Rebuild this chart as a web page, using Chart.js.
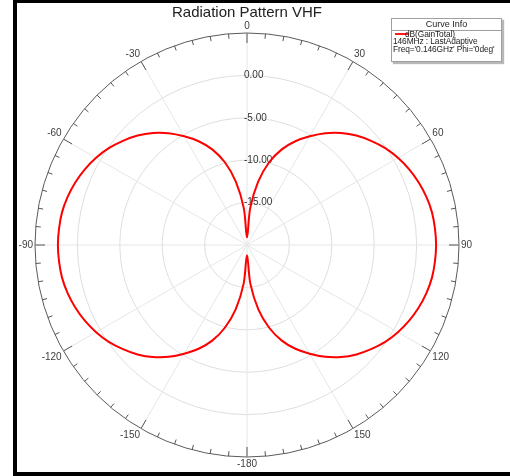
<!DOCTYPE html>
<html>
<head>
<meta charset="utf-8">
<script src="https://cdn.jsdelivr.net/npm/chart.js@4.4.1/dist/chart.umd.min.js"></script>
<style>
  html, body { margin: 0; padding: 0; background: #fff; }
  body { width: 510px; height: 476px; position: relative; overflow: hidden; font-family: "Liberation Sans", Arial, sans-serif; }
  #frame { position: absolute; left: 13px; top: 0; width: 497px; height: 476px; box-sizing: border-box;
           border-left: 4px solid #000; border-top: 3px solid #000; border-bottom: 4px solid #000; }
  canvas { position: absolute; left: 0; top: 0; }
  .curve-info { position: absolute; left: 391px; top: 18px; width: 111px; height: 44px; box-sizing: border-box;
                border: 1px solid #a0a0a0; background: #fff; box-shadow: 2px 2px 1px #b8b8b8; color: #222; font-size: 8.4px; }
  .curve-info .head { height: 11px; line-height: 11px; text-align: center; border-bottom: 1px solid #a0a0a0; font-size: 9px; }
  .curve-info .row { position: absolute; left: 1px; white-space: nowrap; line-height: 9px; letter-spacing: -0.1px; }
  .curve-info .swatch { position: absolute; left: 3px; top: 14px; width: 14px; height: 2px; background: #ff1a1a; }
</style>
</head>
<body>
<div id="frame"></div>
<canvas id="polarChart" width="510" height="476"></canvas>
<div class="curve-info">
  <div class="head">Curve Info</div>
  <div class="swatch"></div>
  <div class="row" style="left:13px; top:11px;">dB(GainTotal)</div>
  <div class="row" style="top:18px;">146MHz : LastAdaptive</div>
  <div class="row" style="top:26px;">Freq='0.146GHz' Phi='0deg'</div>
</div>
<script>
// Theta in degrees, clockwise from the top
const angleLabels = [
  "0", "5", "10", "15", "20", "25", "30", "35", "40", "45", "50", "55",
  "60", "65", "70", "75", "80", "85", "90", "95", "100", "105", "110", "115",
  "120", "125", "130", "135", "140", "145", "150", "155", "160", "165", "170", "175",
  "-180", "-175", "-170", "-165", "-160", "-155", "-150", "-145", "-140", "-135", "-130", "-125",
  "-120", "-115", "-110", "-105", "-100", "-95", "-90", "-85", "-80", "-75", "-70", "-65",
  "-60", "-55", "-50", "-45", "-40", "-35", "-30", "-25", "-20", "-15", "-10", "-5"
];

// dB(GainTotal)
const gainTotal = [
  -19.1, -15.6, -12.4, -9.9, -8.0, -6.5, -5.2, -3.9, -2.75, -1.75, -0.9, -0.1,
  0.55, 1.1, 1.55, 1.9, 2.15, 2.25, 2.3, 2.25, 2.15, 1.9, 1.55, 1.1,
  0.55, -0.1, -0.9, -1.75, -2.75, -3.9, -5.2, -6.5, -8.0, -9.9, -12.3, -15.4,
  -18.8, -15.4, -12.3, -9.9, -8.0, -6.5, -5.2, -3.9, -2.75, -1.75, -0.9, -0.1,
  0.55, 1.1, 1.55, 1.9, 2.15, 2.25, 2.3, 2.25, 2.15, 1.9, 1.55, 1.1,
  0.55, -0.1, -0.9, -1.75, -2.75, -3.9, -5.2, -6.5, -8.0, -9.9, -12.4, -15.6
];

const ringLabels = [0, -5, -10, -15];
const rMin = -20;
const rMax = 5;

const fontFamily = '"Liberation Sans", Arial, sans-serif';

// outer ring ticks, angle labels and dB labels
const polarDecor = {
  id: "polarDecor",
  beforeDatasetsDraw(chart) {
    const r = chart.scales.r;
    const ctx = chart.ctx;
    const R = r.drawingArea;
    ctx.save();
    ctx.strokeStyle = "#555";
    ctx.lineWidth = 1;
    angleLabels.forEach((lab, i) => {
      const major = Number(lab) % 30 === 0;
      const p1 = r.getPointPosition(i, R);
      const p2 = r.getPointPosition(i, R - (major ? 10 : 5));
      ctx.beginPath();
      ctx.moveTo(p1.x, p1.y);
      ctx.lineTo(p2.x, p2.y);
      ctx.stroke();
    });

    ctx.fillStyle = "#404040";
    ctx.font = "10px " + fontFamily;
    angleLabels.forEach((lab, i) => {
      if (Number(lab) % 30 !== 0) return;
      const a = r.getIndexAngle(i);
      const s = Math.sin(a), c = Math.cos(a);
      const p = r.getPointPosition(i, R + 2);
      ctx.textAlign = Math.abs(s) < 0.01 ? "center" : (s > 0 ? "left" : "right");
      ctx.textBaseline = Math.abs(c) < 0.01 ? "middle" : (c > 0 ? "bottom" : "top");
      ctx.fillText(lab, p.x, p.y);
    });

    ctx.fillStyle = "#333";
    ctx.font = "10px " + fontFamily;
    ctx.textAlign = "left";
    ctx.textBaseline = "middle";
    ringLabels.forEach(v => {
      const d = r.getDistanceFromCenterForValue(v);
      ctx.fillText(v.toFixed(2), r.xCenter - 3, r.yCenter - d);
    });
    ctx.restore();
  }
};

const ctx = document.getElementById("polarChart").getContext("2d");
new Chart(ctx, {
  type: "radar",
  data: {
    labels: angleLabels,
    datasets: [
      {
        label: "dB(GainTotal)",
        data: gainTotal,
        borderColor: "#ff0000",
        borderWidth: 2,
        pointRadius: 0,
        pointHoverRadius: 0,
        fill: false,
        tension: 0.35,
      },
    ],
  },
  options: {
    responsive: false,
    animation: false,
    events: [],
    layout: { padding: { left: 35, right: 51, top: 0, bottom: 19 } },
    plugins: {
      legend: { display: false },
      tooltip: { enabled: false },
      title: {
        display: true,
        text: "Radiation Pattern VHF",
        color: "#222",
        font: { family: fontFamily, size: 15, weight: "normal", lineHeight: 1.2 },
        padding: { top: 4, bottom: 11 },
      },
    },
    scales: {
      r: {
        min: rMin,
        max: rMax,
        startAngle: 0,
        ticks: { display: false, stepSize: 5 },
        pointLabels: { display: false },
        grid: {
          circular: true,
          lineWidth: 1,
          color: c => {
            if (!c.tick) return "#dedede";
            if (c.tick.value === rMax) return "#5a5a5a";
            if (c.tick.value === rMin) return "rgba(0,0,0,0)";
            return "#dedede";
          },
        },
        angleLines: {
          color: "#e6e6e6",
          lineWidth: c => (Number(angleLabels[c.index]) % 30 === 0 ? 1 : 0),
        },
      },
    },
  },
  plugins: [polarDecor],
});
</script>
</body>
</html>
